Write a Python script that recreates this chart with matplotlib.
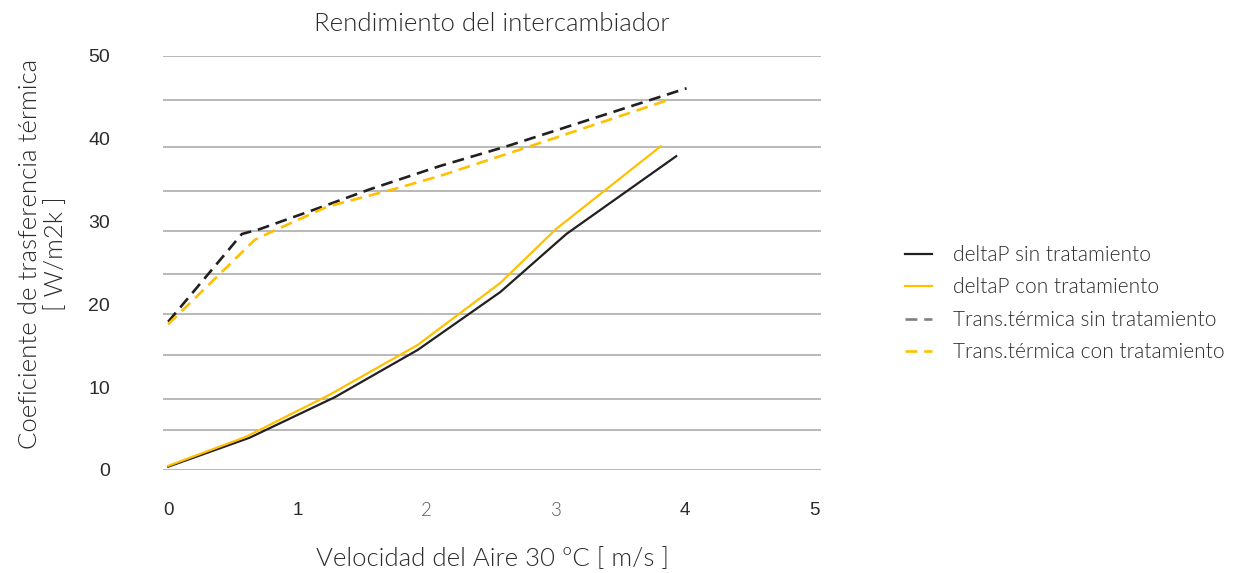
import matplotlib.pyplot as plt
from matplotlib.lines import Line2D

# --- data ---
# deltaP sin tratamiento (solid black)
x_dp_sin = [0.0, 0.63, 1.29, 1.93, 2.57, 3.08, 3.93]
y_dp_sin = [0.4, 3.9, 8.8, 14.5, 21.5, 28.5, 37.9]
# deltaP con tratamiento (solid yellow)
x_dp_con = [0.0, 0.60, 1.25, 1.93, 2.57, 3.00, 3.81]
y_dp_con = [0.5, 4.0, 9.1, 15.1, 22.6, 29.1, 39.1]
# Trans.termica sin tratamiento (dashed black)
x_tt_sin = [0.0, 0.57, 0.71, 1.14, 1.56, 2.10, 2.62, 4.01]
y_tt_sin = [17.9, 28.5, 29.1, 31.5, 33.9, 36.7, 39.1, 46.1]
# Trans.termica con tratamiento (dashed yellow)
x_tt_con = [0.0, 0.67, 0.79, 1.23, 1.74, 2.10, 2.80, 3.87]
y_tt_con = [17.6, 27.8, 28.7, 31.8, 33.9, 35.5, 39.1, 44.7]

# the gridlines in the original are not evenly spaced
grid_y = [0, 4.8, 8.6, 13.9, 18.8, 23.7, 28.9, 33.7, 39.0, 44.7, 50]
y_ticks = [0, 10, 20, 30, 40, 50]
x_ticks = [0, 1, 2, 3, 4, 5]

labels = ["deltaP sin tratamiento", "deltaP con tratamiento",
          "Trans.térmica sin tratamiento", "Trans.térmica con tratamiento"]

BLACK = "#231f20"
GOLD = "#ffc000"
TXT = "#2b2b2b"
LIGHT = dict(family=["Lato", "DejaVu Sans"], weight=300)

fig = plt.figure(figsize=(12.4, 5.73), dpi=100)
ax = fig.add_axes([163 / 1240, (573 - 470) / 573, 658 / 1240, 414 / 573])

for g in grid_y:
    ax.axhline(g, color="#a6a6a6", lw=1.1, zorder=0)

dash = (0, (4.5, 2.6))
ax.plot(x_tt_sin, y_tt_sin, color=BLACK, lw=1.9, ls=dash, clip_on=False)
ax.plot(x_tt_con, y_tt_con, color=GOLD, lw=1.9, ls=dash, clip_on=False)
ax.plot(x_dp_sin, y_dp_sin, color=BLACK, lw=1.6, clip_on=False)
ax.plot(x_dp_con, y_dp_con, color=GOLD, lw=1.6, clip_on=False)

ax.set_xlim(-0.04, 5.05)
ax.set_ylim(0, 50)
for s in ax.spines.values():
    s.set_visible(False)

ax.set_yticks(y_ticks)
ax.set_yticklabels([str(v) for v in y_ticks], family="Liberation Sans",
                   fontsize=14, color=TXT)
ax.tick_params(axis="y", length=0, pad=38)
ax.set_xticks(x_ticks)
ax.set_xticklabels([str(v) for v in x_ticks], family="Liberation Sans",
                   fontsize=13.5, color=TXT)
ax.tick_params(axis="x", length=0, pad=23)
for i in (2, 3):
    t = ax.get_xticklabels()[i]
    t.set_fontfamily(LIGHT["family"])
    t.set_fontweight(300)
    t.set_color("#555555")

ax.set_title("Rendimiento del intercambiador", fontsize=18.5, color=TXT,
             pad=18, **LIGHT)
ax.set_xlabel("Velocidad del Aire 30 ºC [ m/s ]", fontsize=18.5,
              color=TXT, labelpad=20, **LIGHT)

# two-line y label, each line placed separately as in the original
fig.text(30 / 1240, 1 - 254 / 573, "Coeficiente de trasferencia térmica",
         rotation=90, ha="center", va="center", fontsize=18.5, color=TXT, **LIGHT)
fig.text(56 / 1240, 1 - 254 / 573, "[ W/m2k ]",
         rotation=90, ha="center", va="center", fontsize=18.5, color=TXT, **LIGHT)

handles = [
    Line2D([], [], color=BLACK, lw=1.6),
    Line2D([], [], color=GOLD, lw=1.6),
    Line2D([], [], color="#808080", lw=1.9, ls=dash),
    Line2D([], [], color=GOLD, lw=1.9, ls=dash),
]
fig.legend(handles, labels, loc="center left", bbox_to_anchor=(905 / 1240, 0.47),
           frameon=False, prop=dict(size=15, **LIGHT), labelcolor=TXT,
           handlelength=1.3, handletextpad=1.0, labelspacing=0.6,
           borderpad=0, borderaxespad=0)

fig.savefig("out.png", dpi=100)
